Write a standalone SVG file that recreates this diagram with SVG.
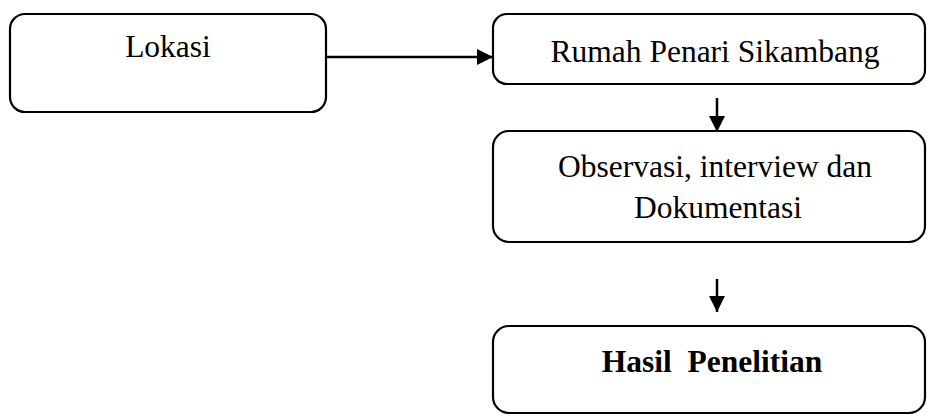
<svg xmlns="http://www.w3.org/2000/svg" width="927" height="416" viewBox="0 0 927 416">
<style>
.box{fill:#fff;stroke:#000;stroke-width:2.2}
.t{font-family:"Liberation Serif","Times New Roman",serif;font-size:31.5px;fill:#000;text-anchor:middle}
.b{font-weight:bold}
.c{stroke:#000;stroke-width:2.5;fill:none}
</style>
<defs>
<marker id="ah" markerWidth="17" markerHeight="17" refX="16" refY="8" orient="auto" markerUnits="userSpaceOnUse">
<path d="M0,0 L16,8 L0,16 Z" fill="#000"/>
</marker>
</defs>
<g id="n-lokasi">
<rect class="box" x="10" y="14" width="316" height="98" rx="15"/>
<text class="t" x="168" y="57">Lokasi</text>
</g>
<g id="n-rumah">
<rect class="box" x="493" y="14" width="432" height="70" rx="14"/>
<text class="t" x="715" y="62">Rumah Penari Sikambang</text>
</g>
<g id="n-observasi">
<rect class="box" x="493" y="131" width="432" height="111" rx="16"/>
<text class="t" x="715" y="177">Observasi, interview dan</text>
<text class="t" x="718" y="218">Dokumentasi</text>
</g>
<g id="n-hasil">
<rect class="box" x="493" y="326" width="432" height="87" rx="16"/>
<text class="t b" x="712" y="372" xml:space="preserve">Hasil  Penelitian</text>
</g>
<g id="connectors">
<line class="c" x1="326" y1="57" x2="493" y2="57" marker-end="url(#ah)"/>
<line class="c" x1="717" y1="98" x2="717" y2="132" marker-end="url(#ah)"/>
<line class="c" x1="717" y1="279" x2="717" y2="312" marker-end="url(#ah)"/>
</g>
</svg>
